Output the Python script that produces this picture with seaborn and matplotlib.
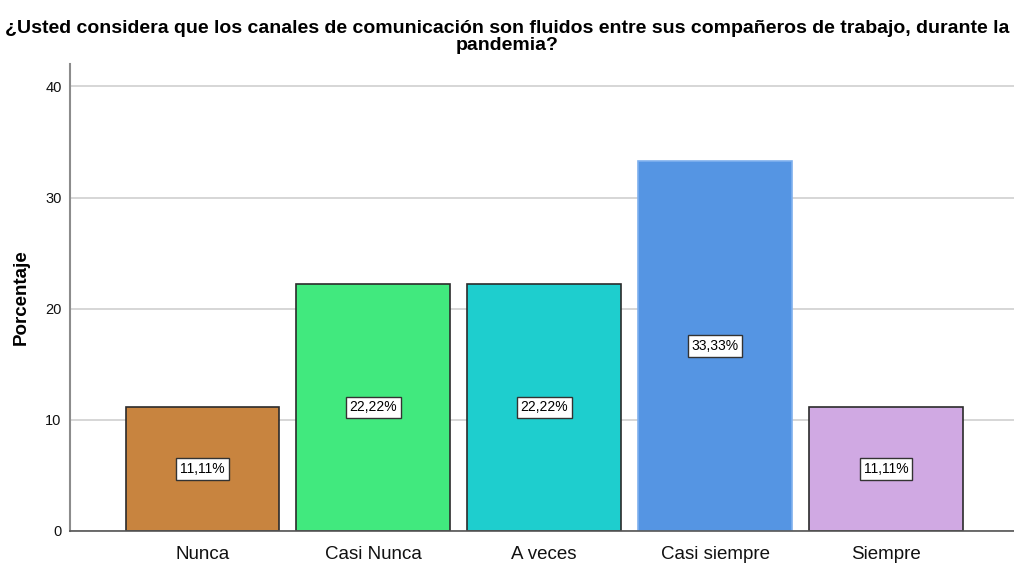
import seaborn as sns
import matplotlib.pyplot as plt
import pandas as pd

# Datos
categorias = ['Nunca', 'Casi Nunca', 'A veces', 'Casi siempre', 'Siempre']
porcentajes = [11.11, 22.22, 22.22, 33.33, 11.11]
colores = ['#C8843F', '#41E97E', '#1ECECE', '#5595E3', '#D0A9E3']
bordes = ['#2b2b2b', '#2b2b2b', '#2b2b2b', '#7fb0ee', '#2b2b2b']
etiquetas = ['11,11%', '22,22%', '22,22%', '33,33%', '11,11%']

df = pd.DataFrame({'categoria': categorias, 'porcentaje': porcentajes})

sns.set_style('white')
plt.rcParams['font.family'] = ['Liberation Sans', 'DejaVu Sans']

fig = plt.figure(figsize=(10.14, 5.63), dpi=100)
ax = fig.add_axes([0.069, 0.057, 0.931, 0.829])

sns.barplot(
    data=df,
    x='categoria',
    y='porcentaje',
    hue='categoria',
    palette=colores,
    legend=False,
    width=0.9,
    linewidth=1.2,
    saturation=1,
    ax=ax
)

for barra, borde in zip(ax.patches, bordes):
    barra.set_edgecolor(borde)

# Etiquetas de valor
for i, (v, txt) in enumerate(zip(porcentajes, etiquetas)):
    ax.text(i, v / 2, txt, ha='center', va='center', fontsize=10, color='black',
            bbox=dict(boxstyle='square,pad=0.28', facecolor='white',
                      edgecolor='#333333', linewidth=1))

# Ejes y cuadrícula
ax.set_xlim(-0.776, 4.75)
ax.set_ylim(0, 42)
ax.set_yticks([0, 10, 20, 30, 40])
ax.yaxis.grid(True, color='#d0d0d0', linewidth=1.2)
ax.set_axisbelow(True)
for lado in ['top', 'right']:
    ax.spines[lado].set_visible(False)
ax.spines['left'].set_color('#8c8c8c')
ax.spines['left'].set_linewidth(1.5)
ax.spines['bottom'].set_color('#555555')
ax.spines['bottom'].set_linewidth(1.2)
ax.tick_params(axis='x', labelsize=13.5, length=0, pad=11, colors='#111111')
ax.tick_params(axis='y', labelsize=10.5, length=0, pad=6, colors='#111111')

ax.set_xlabel('')
ax.set_ylabel('Porcentaje', fontsize=13.5, fontweight='bold', labelpad=11, color='black')
fig.suptitle('¿Usted considera que los canales de comunicación son fluidos entre sus compañeros de trabajo, durante la\npandemia?',
             fontsize=14, fontweight='bold', y=0.965, linespacing=1.0, color='black')

plt.savefig('out.png', dpi=100)
